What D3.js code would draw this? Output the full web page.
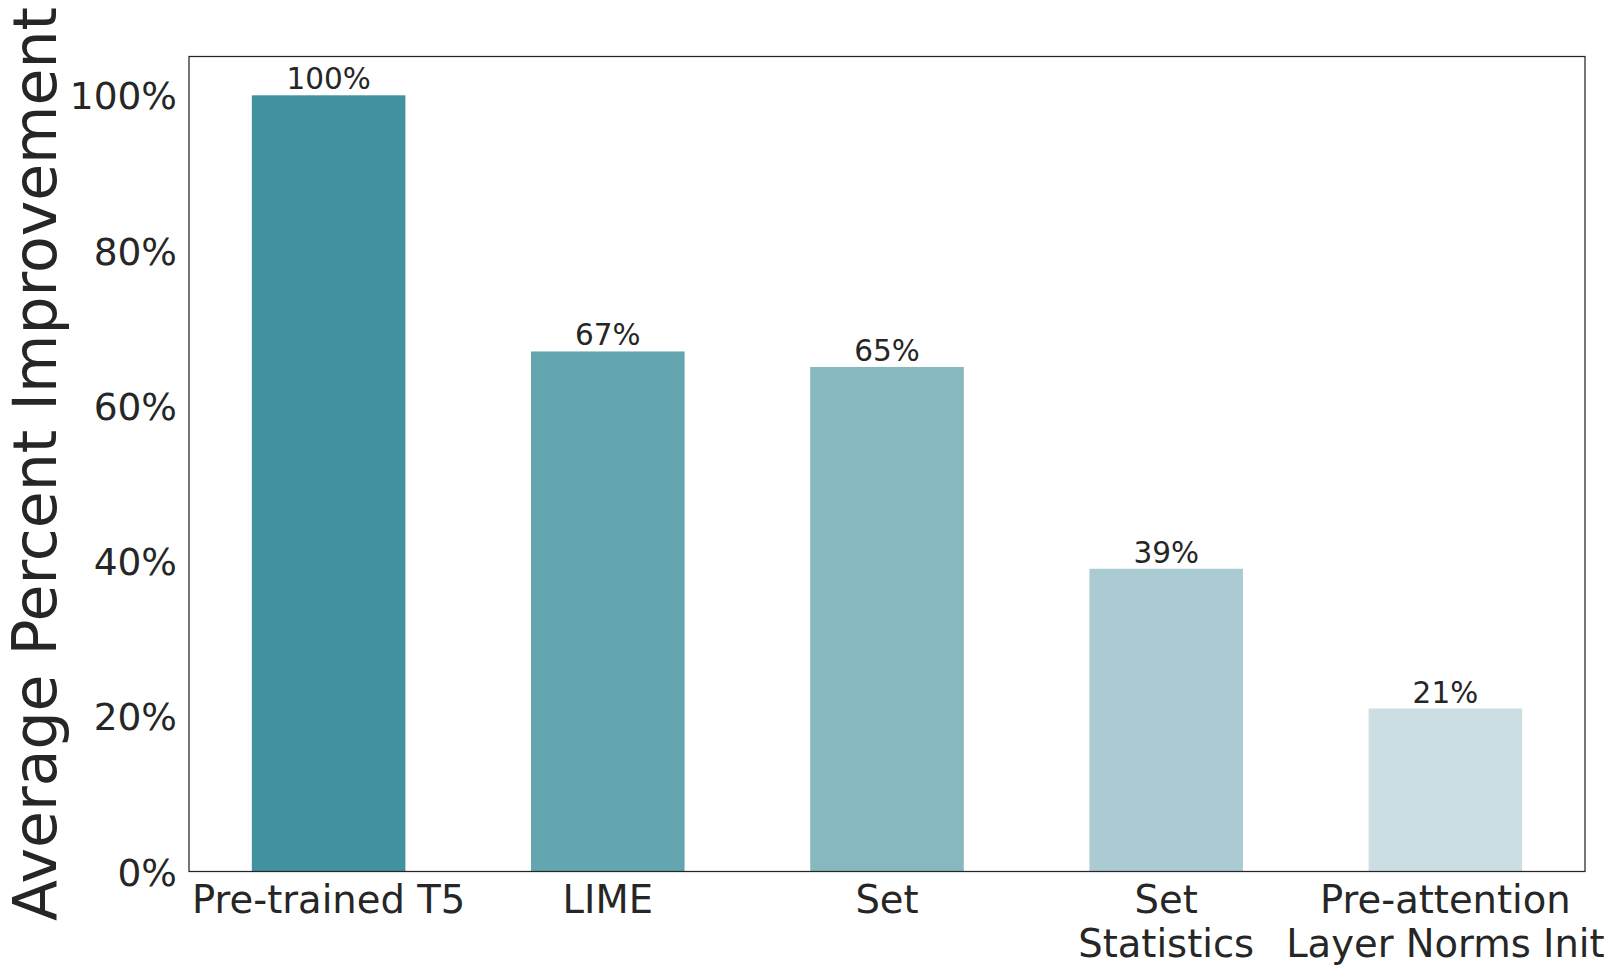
<!doctype html>
<html>
<head>
<meta charset="utf-8">
<title>Average Percent Improvement</title>
<script src="https://cdnjs.cloudflare.com/ajax/libs/d3/7.8.5/d3.min.js"></script>
<style>
  body { margin: 0; background: #fff; }
  text { font-family: "DejaVu Sans", sans-serif; fill: #262626; }
</style>
</head>
<body>
<div id="chart"></div>
<script>
  // data
  const categories = [["Pre-trained T5"], ["LIME"], ["Set"], ["Set", "Statistics"], ["Pre-attention", "Layer Norms Init"]];
  const values = [100, 67, 65, 39, 21];
  const colors = ["#41929e", "#63a6b0", "#88b8bf", "#a9cbd1", "#cbdee2"];
  const yTicks = [0, 20, 40, 60, 80, 100];

  const W = 1611, H = 970;
  const m = { left: 189, right: 26, top: 56.5, bottom: 98.5 };

  const svg = d3.select('#chart').append('svg')
    .attr('width', W).attr('height', H);

  const x = d3.scaleBand()
    .domain(d3.range(values.length))
    .range([m.left, W - m.right])
    .paddingInner(0.45).paddingOuter(0.225);

  const y = d3.scaleLinear()
    .domain([0, 105])
    .range([H - m.bottom, m.top]);

  // bars
  svg.selectAll('rect.bar')
    .data(values)
    .join('rect')
    .attr('class', 'bar')
    .attr('x', (d, i) => x(i))
    .attr('width', x.bandwidth())
    .attr('y', d => y(d))
    .attr('height', d => y(0) - y(d))
    .attr('fill', (d, i) => colors[i]);

  // value labels
  svg.selectAll('text.val')
    .data(values)
    .join('text')
    .attr('class', 'val')
    .attr('x', (d, i) => x(i) + x.bandwidth() / 2)
    .attr('y', d => y(d) - 6)
    .attr('text-anchor', 'middle')
    .style('font-size', '29.5px')
    .text(d => d + '%');

  // y axis
  const yAxis = svg.append('g')
    .attr('transform', `translate(${m.left},0)`)
    .call(d3.axisLeft(y).tickValues(yTicks).tickSize(0).tickPadding(12).tickFormat(d => d + '%'));
  yAxis.select('.domain').remove();
  yAxis.selectAll('text').style('font-size', '37.5px').attr('dy', '0.36em');

  // x labels
  svg.selectAll('text.cat')
    .data(categories)
    .join('text')
    .attr('class', 'cat')
    .attr('text-anchor', 'middle')
    .attr('x', (d, i) => x(i) + x.bandwidth() / 2)
    .attr('y', H - m.bottom + 41)
    .style('font-size', '38.5px')
    .selectAll('tspan')
    .data(d => d)
    .join('tspan')
    .attr('x', function () { return this.parentNode.getAttribute('x'); })
    .attr('dy', (d, i) => i === 0 ? 0 : '1.15em')
    .text(d => d);

  // frame
  svg.append('rect')
    .attr('x', m.left).attr('y', m.top)
    .attr('width', W - m.left - m.right)
    .attr('height', H - m.top - m.bottom)
    .attr('fill', 'none')
    .attr('stroke', '#262626')
    .attr('stroke-width', 1.25);

  // y title
  svg.append('text')
    .attr('transform', `translate(56,${(m.top + H - m.bottom) / 2}) rotate(-90)`)
    .attr('text-anchor', 'middle')
    .style('font-size', '60px')
    .text('Average Percent Improvement');
</script>
</body>
</html>
